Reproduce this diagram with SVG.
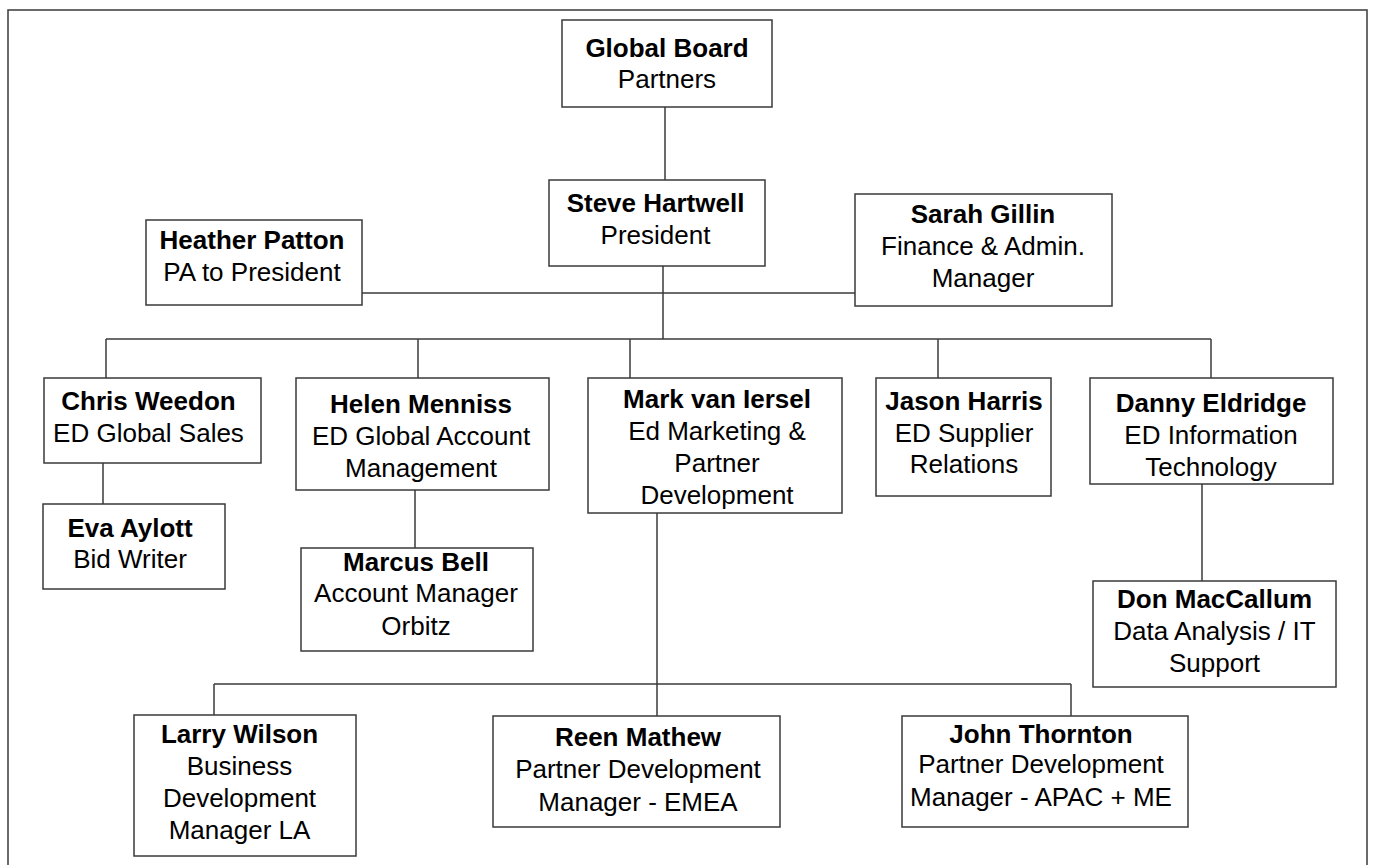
<svg xmlns="http://www.w3.org/2000/svg" width="1374" height="865" viewBox="0 0 1374 865">
  <style>
    .box { fill: #ffffff; stroke: #3a3a3a; stroke-width: 1.5; }
    .frame { fill: none; stroke: #3a3a3a; stroke-width: 1.5; }
    .link { fill: none; stroke: #3a3a3a; stroke-width: 1.5; }
    text { font-family: "Liberation Sans", Arial, sans-serif; font-size: 26px; fill: #000000; text-anchor: middle; }
    .name { font-weight: bold; }
  </style>

  <rect width="1374" height="865" fill="#ffffff"/>
  <!-- page frame (open at the bottom edge) -->
  <rect class="frame" x="8" y="10" width="1359" height="880"/>

  <g id="connectors">
    <!-- board to president -->
    <path class="link" d="M665 107 V180"/>
    <!-- president trunk -->
    <path class="link" d="M663 266 V339"/>
    <!-- staff line: PA and finance -->
    <path class="link" d="M362 293 H855"/>
    <!-- executive directors bus -->
    <path class="link" d="M106 339 H1211"/>
    <path class="link" d="M106 339 V378"/>
    <path class="link" d="M418 339 V378"/>
    <path class="link" d="M630 339 V378"/>
    <path class="link" d="M938 339 V378"/>
    <path class="link" d="M1211 339 V378"/>
    <!-- direct reports -->
    <path class="link" d="M103 463 V504"/>
    <path class="link" d="M415 490 V548"/>
    <path class="link" d="M1202 484 V581"/>
    <!-- partner development bus -->
    <path class="link" d="M657 513 V716"/>
    <path class="link" d="M214 684 H1071"/>
    <path class="link" d="M214 684 V715"/>
    <path class="link" d="M1071 684 V716"/>
  </g>

  <g id="global-board">
    <rect class="box" x="562" y="20" width="210" height="87"/>
    <text class="name" x="667" y="57">Global Board</text>
    <text x="667" y="88">Partners</text>
  </g>

  <g id="steve-hartwell">
    <rect class="box" x="549" y="180" width="216" height="86"/>
    <text class="name" x="655.5" y="212">Steve Hartwell</text>
    <text x="655.5" y="244">President</text>
  </g>

  <g id="heather-patton">
    <rect class="box" x="146" y="220" width="216" height="85"/>
    <text class="name" x="252" y="249">Heather Patton</text>
    <text x="252" y="281">PA to President</text>
  </g>

  <g id="sarah-gillin">
    <rect class="box" x="855" y="194" width="257" height="112"/>
    <text class="name" x="983" y="223">Sarah Gillin</text>
    <text x="983" y="255">Finance &amp; Admin.</text>
    <text x="983" y="287">Manager</text>
  </g>

  <g id="chris-weedon">
    <rect class="box" x="44" y="378" width="217" height="85"/>
    <text class="name" x="148.5" y="410">Chris Weedon</text>
    <text x="148.5" y="442">ED Global Sales</text>
  </g>

  <g id="helen-menniss">
    <rect class="box" x="296" y="378" width="253" height="112"/>
    <text class="name" x="421" y="413">Helen Menniss</text>
    <text x="421" y="445">ED Global Account</text>
    <text x="421" y="477">Management</text>
  </g>

  <g id="mark-van-iersel">
    <rect class="box" x="588" y="378" width="254" height="135"/>
    <text class="name" x="717" y="408">Mark van Iersel</text>
    <text x="717" y="440">Ed Marketing &amp;</text>
    <text x="717" y="472">Partner</text>
    <text x="717" y="504">Development</text>
  </g>

  <g id="jason-harris">
    <rect class="box" x="876" y="378" width="175" height="118"/>
    <text class="name" x="964" y="410">Jason Harris</text>
    <text x="964" y="442">ED Supplier</text>
    <text x="964" y="473">Relations</text>
  </g>

  <g id="danny-eldridge">
    <rect class="box" x="1090" y="378" width="243" height="106"/>
    <text class="name" x="1211" y="412">Danny Eldridge</text>
    <text x="1211" y="444">ED Information</text>
    <text x="1211" y="476">Technology</text>
  </g>

  <g id="eva-aylott">
    <rect class="box" x="43" y="504" width="182" height="85"/>
    <text class="name" x="130" y="537">Eva Aylott</text>
    <text x="130" y="568">Bid Writer</text>
  </g>

  <g id="marcus-bell">
    <rect class="box" x="301" y="548" width="232" height="103"/>
    <text class="name" x="416" y="571">Marcus Bell</text>
    <text x="416" y="602">Account Manager</text>
    <text x="416" y="635">Orbitz</text>
  </g>

  <g id="don-maccallum">
    <rect class="box" x="1093" y="581" width="243" height="106"/>
    <text class="name" x="1214.5" y="608">Don MacCallum</text>
    <text x="1214.5" y="640">Data Analysis / IT</text>
    <text x="1214.5" y="672">Support</text>
  </g>

  <g id="larry-wilson">
    <rect class="box" x="134" y="715" width="222" height="141"/>
    <text class="name" x="239.5" y="743">Larry Wilson</text>
    <text x="239.5" y="775">Business</text>
    <text x="239.5" y="807">Development</text>
    <text x="239.5" y="839">Manager LA</text>
  </g>

  <g id="reen-mathew">
    <rect class="box" x="493" y="716" width="287" height="111"/>
    <text class="name" x="638" y="746">Reen Mathew</text>
    <text x="638" y="778">Partner Development</text>
    <text x="638" y="811">Manager - EMEA</text>
  </g>

  <g id="john-thornton">
    <rect class="box" x="902" y="716" width="286" height="111"/>
    <text class="name" x="1041" y="743">John Thornton</text>
    <text x="1041" y="773">Partner Development</text>
    <text x="1041" y="806">Manager - APAC + ME</text>
  </g>
</svg>
